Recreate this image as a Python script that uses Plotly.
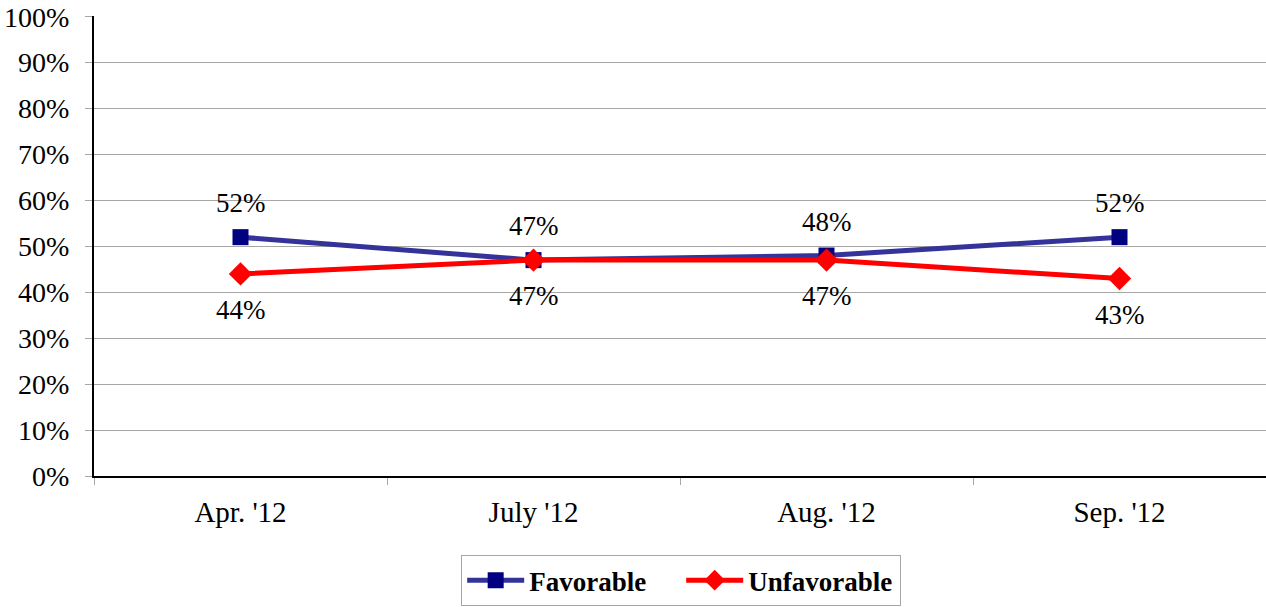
import plotly.graph_objects as go

categories = ["Apr. '12", "July '12", "Aug. '12", "Sep. '12"]
favorable = [52, 47, 48, 52]
unfavorable = [44, 47, 47, 43]
y_ticks = list(range(0, 101, 10))

FONT = "Liberation Serif, Times New Roman, serif"

fig = go.Figure()
fig.add_trace(go.Scatter(
    x=categories, y=favorable, name="Favorable", mode="lines+markers",
    line=dict(color="#333399", width=5),
    marker=dict(symbol="square", size=16, color="#000080"),
))
fig.add_trace(go.Scatter(
    x=categories, y=unfavorable, name="Unfavorable", mode="lines+markers",
    line=dict(color="#FF0000", width=5),
    marker=dict(symbol="diamond", size=18, color="#FF0000"),
))

for c, v in zip(categories, favorable):
    fig.add_annotation(x=c, y=v, text=f"{v}%", showarrow=False, yshift=34,
                       font=dict(family=FONT, size=27, color="black"))
for c, v in zip(categories, unfavorable):
    fig.add_annotation(x=c, y=v, text=f"{v}%", showarrow=False, yshift=-36,
                       font=dict(family=FONT, size=27, color="black"))

fig.update_layout(
    width=1266, height=607,
    margin=dict(l=94, r=0, t=16, b=131),
    paper_bgcolor="white", plot_bgcolor="white",
    font=dict(family=FONT, size=27, color="black"),
    showlegend=True,
    legend=dict(orientation="h", x=0.501, xanchor="center", y=-0.172, yanchor="top",
                bordercolor="#a6a6a6", borderwidth=1,
                font=dict(family=FONT, size=27, color="black", weight="bold"),
                itemwidth=57, entrywidth=147, entrywidthmode="pixels"),
    xaxis=dict(
        range=[-0.5, 3.5], type="category", showgrid=False, automargin=False,
        showline=True, linecolor="black", linewidth=2,
        ticks="outside", tickson="boundaries", ticklen=7, tickcolor="#a6a6a6",
        tickfont=dict(family=FONT, size=29), zeroline=False, ticklabelstandoff=9,
    ),
    yaxis=dict(
        range=[0, 100.15], tickvals=y_ticks, ticktext=[f"{t}%" for t in y_ticks],
        showgrid=True, gridcolor="#a6a6a6", gridwidth=1, automargin=False,
        showline=True, linecolor="black", linewidth=2,
        ticks="outside", ticklen=7, tickcolor="#a6a6a6",
        tickfont=dict(family=FONT, size=28), zeroline=False, ticklabelstandoff=10,
        ticklabeloverflow="allow",
    ),
)

fig.write_html("out.html", config={"displayModeBar": False},
               post_script="document.body.style.margin='0';")
